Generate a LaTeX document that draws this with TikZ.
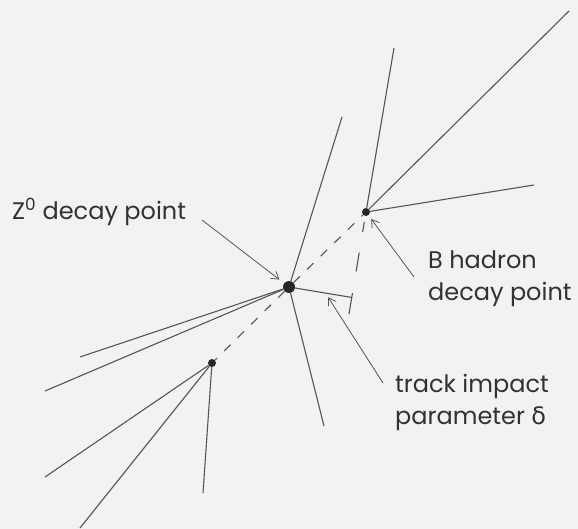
\documentclass[tikz,border=0pt]{standalone}
\usepackage{fontspec}
\setmainfont{Poppins}
\newfontfamily\grk{DejaVu Sans}
\usetikzlibrary{arrows.meta,calc}
\definecolor{bg}{RGB}{242,242,242}
\definecolor{trk}{RGB}{85,85,85}
\definecolor{txt}{RGB}{50,50,50}
\begin{document}
\begin{tikzpicture}[x=1pt,y=-1pt,
  track/.style={draw=trk,line width=1.1pt},
  flight/.style={draw=trk,line width=1.1pt,dash pattern=on 9pt off 10pt},
  vtx/.style={circle,fill=black!85,inner sep=0pt},
  arr/.style={draw=trk,line width=0.8pt,-{Straight Barb[length=7pt,width=9pt]}},
  lab/.style={font=\fontsize{24}{32}\selectfont,text=txt,inner sep=0pt,align=left}]
\fill[bg] (0,0) rectangle (578,529);
\useasboundingbox (0,0) rectangle (578,529);
% vertices
\node[vtx,minimum size=12pt] (P) at (289,287) {};
\node[vtx,minimum size=8pt] (B) at (366,212) {};
\node[vtx,minimum size=8pt] (L) at (212,363) {};
% track ends
\coordinate (p1) at (342,117);
\coordinate (p2) at (324,426);
\coordinate (p3) at (80,357);
\coordinate (p4) at (45,391);
\coordinate (b1) at (394,48);
\coordinate (b2) at (569,11);
\coordinate (b3) at (534,185);
\coordinate (l1) at (45,477);
\coordinate (l2) at (80,528);
\coordinate (l3) at (203,493);
\coordinate (e) at (349,314);
% tracks
\draw[track] (P) -- (p1);
\draw[track] (P) -- (p2);
\draw[track] (P) -- (p3);
\draw[track] (P) -- (p4);
\draw[track] (B) -- (b1);
\draw[track] (B) -- (b2);
\draw[track] (B) -- (b3);
\draw[track] (L) -- (l1);
\draw[track] (L) -- (l2);
\draw[track] (L) -- (l3);
% flight paths
\draw[flight] (P) -- (B);
\draw[flight] (P) -- (L);
% extrapolated track and impact parameter
\draw[track,dash pattern=on 0pt off 6pt on 10pt off 21pt on 19pt off 22pt on 20pt] (B) -- (e);
\coordinate (foot) at ($(B)!(P)!(e)$);
\draw[track] (P) -- (foot);
\coordinate (ipt) at ($(P)!0.58!(foot)$);
% labels
\node[lab,anchor=base west] (zlab) at (12,220) {Z\textsuperscript{0} decay point};
\node[lab,anchor=base west] (blab) at (428,300) {B hadron\\decay point};
\node[lab,anchor=base west] (tlab) at (395,424) {track impact\\parameter {\grk δ}};
% arrows
\coordinate (za) at (202,220);
\coordinate (ba) at (414,277);
\coordinate (ta) at (383,383);
\draw[arr,shorten >=6pt] (za) -- (P);
\draw[arr,shorten >=4.5pt] (ba) -- (B);
\draw[arr,shorten >=5pt] (ta) -- (ipt);
\end{tikzpicture}
\end{document}
